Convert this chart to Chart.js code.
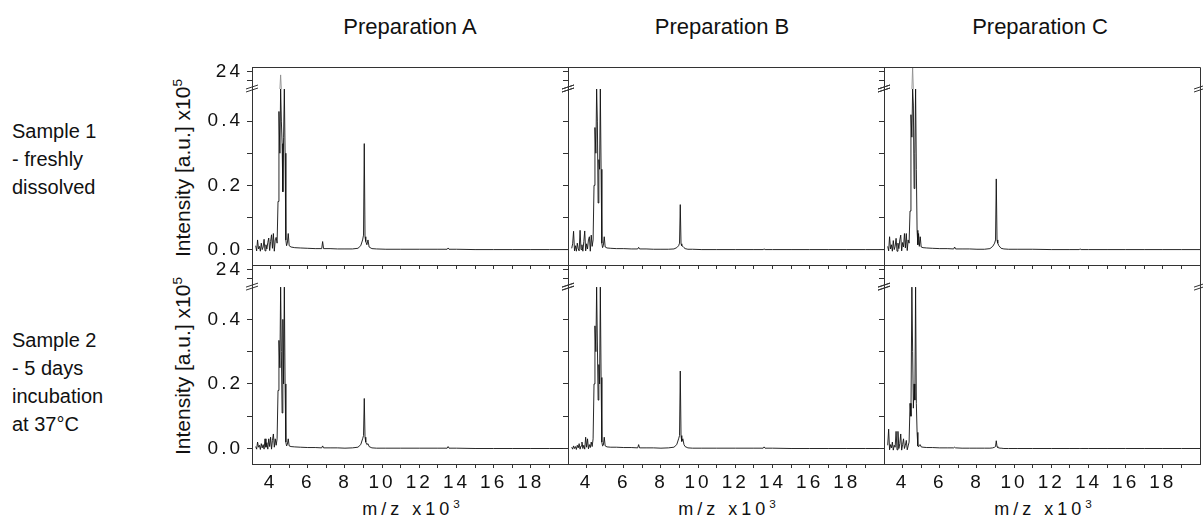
<!DOCTYPE html>
<html>
<head>
<meta charset="utf-8">
<script src="https://cdn.jsdelivr.net/npm/chart.js@4.4.1/dist/chart.umd.min.js"></script>
<style>
  body { margin: 0; background: #fff; width: 1203px; height: 525px; position: relative; overflow: hidden;
         font-family: "Liberation Sans", Arial, sans-serif; color: #111; }
  canvas { position: absolute; }
  .lbl { position: absolute; white-space: nowrap; }
  .col { font-size: 22px; transform: translateX(-50%); top: 14px; }
  .row { font-size: 20px; line-height: 28px; left: 12px; }
  .ytitle { font-size: 21px; transform: translate(-50%, -50%) rotate(-90deg); }
  .xtitle { font-size: 18px; letter-spacing: 4px; transform: translateX(-50%); top: 499px; }
  sup { font-size: 0.65em; vertical-align: 0.6em; line-height: 0; }
</style>
</head>
<body>

<div class="lbl col" style="left:410px">Preparation A</div>
<div class="lbl col" style="left:722px">Preparation B</div>
<div class="lbl col" style="left:1040px">Preparation C</div>

<div class="lbl row" style="top:117px">Sample 1<br>- freshly<br>dissolved</div>
<div class="lbl row" style="top:326px">Sample 2<br>- 5 days<br>incubation<br>at 37°C</div>

<div class="lbl ytitle" style="left:183px;top:168px">Intensity [a.u.] x10<sup>5</sup></div>
<div class="lbl ytitle" style="left:183px;top:366px">Intensity [a.u.] x10<sup>5</sup></div>

<div class="lbl xtitle" style="left:413px">m/z x10<sup>3</sup></div>
<div class="lbl xtitle" style="left:729px">m/z x10<sup>3</sup></div>
<div class="lbl xtitle" style="left:1045px">m/z x10<sup>3</sup></div>

<script>
// m/z positions (x10^3), shared by all six spectra
const mz = [
  3.20, 3.25, 3.30, 3.35, 3.40, 3.45, 3.50, 3.55, 3.60, 3.65, 3.70, 3.75,
  3.80, 3.85, 3.90, 3.95, 4.00, 4.05, 4.10, 4.15, 4.20, 4.25, 4.30,
  4.35, 4.40, 4.45, 4.50, 4.54, 4.58, 4.62, 4.66, 4.70, 4.74, 4.78, 4.82, 4.86, 4.90,
  4.95, 5.00, 5.10, 5.30, 5.60, 6.00, 6.40, 6.75, 6.80, 6.85,
  7.20, 7.60, 8.00, 8.40, 8.70, 8.85, 8.95, 9.00, 9.04, 9.08,
  9.12, 9.18, 9.24, 9.30, 9.45, 9.70, 10.2, 11.0, 12.0, 13.0,
  13.5, 13.55, 13.6, 14.0, 15.0, 16.0, 17.0, 18.0, 19.0, 20.0
];

// intensities (x10^5), sample 1 = top row, sample 2 = bottom row
const prepA1 = [
  0.012, -0.004, 0.030, 0.002, 0.010, -0.005, 0.020, 0.000, 0.008, 0.032, -0.004, 0.015,
  0.002, 0.022, 0.036, -0.003, 0.025, 0.046, 0.004, 0.050, -0.005, 0.030, 0.038,
  0.02, 0.15, 0.43, 0.30, 23.6, 0.40, 0.33, 0.18, 0.35, 1.2, 0.30, 0.03, 0.012, 0.02,
  0.05, 0.012, 0.008, 0.006, 0.005, 0.004, 0.003, 0.003, 0.025, 0.003,
  0.003, 0.002, 0.002, 0.002, 0.004, 0.012, 0.03, 0.045, 0.33, 0.04,
  0.025, 0.015, 0.03, 0.008, 0.003, 0.002, 0.001, 0.001, 0.001, 0.001,
  0.001, 0.005, 0.001, 0.001, 0, 0, 0, 0, 0, 0
];
const prepB1 = [
  0.004, 0.018, 0.057, -0.004, 0.012, -0.005, 0.020, 0.002, -0.004, 0.060, 0.000, 0.015,
  -0.005, 0.025, 0.058, -0.004, 0.018, 0.002, 0.030, 0.040, -0.005, 0.045, 0.010,
  0.03, 0.20, 0.38, 0.30, 1.5, 0.40, 0.145, 0.28, 0.25, 1.5, 0.25, 0.02, 0.006, 0.012,
  0.04, 0.008, 0.005, 0.004, 0.003, 0.003, 0.002, 0.002, 0.007, 0.002,
  0.002, 0.001, 0.001, 0.001, 0.002, 0.006, 0.012, 0.02, 0.14, 0.018,
  0.012, 0.01, 0.006, 0.003, 0.001, 0.001, 0, 0, 0, 0,
  0, 0.002, 0, 0, 0, 0, 0, 0, 0, 0
];
const prepC1 = [
  0.010, -0.004, 0.040, 0.002, 0.015, -0.005, 0.028, 0.000, 0.010, 0.035, -0.005, 0.020,
  0.003, 0.030, 0.045, -0.004, 0.022, 0.008, 0.050, 0.005, 0.050, -0.003, 0.030,
  0.02, 0.12, 0.42, 0.35, 30, 0.45, 0.19, 0.30, 1.5, 0.25, 0.06, 0.015, 0.05, 0.01,
  0.04, 0.008, 0.006, 0.005, 0.004, 0.003, 0.003, 0.002, 0.008, 0.002,
  0.002, 0.002, 0.001, 0.001, 0.003, 0.01, 0.02, 0.03, 0.22, 0.03,
  0.02, 0.012, 0.008, 0.004, 0.002, 0.001, 0.001, 0.001, 0, 0,
  0, 0.002, 0, 0, 0, 0, 0, 0, 0, 0
];
const prepA2 = [
  0.006, -0.002, 0.020, 0.004, 0.010, -0.003, 0.015, 0.002, 0.012, -0.002, 0.030, 0.004,
  0.018, -0.002, 0.030, 0.006, 0.035, -0.002, 0.025, 0.045, 0.004, 0.030, 0.010,
  0.03, 0.18, 0.335, 0.25, 1.5, 0.30, 0.11, 0.40, 0.20, 1.5, 0.20, 0.02, 0.008, 0.012,
  0.03, 0.008, 0.006, 0.005, 0.004, 0.003, 0.003, 0.002, 0.008, 0.002,
  0.002, 0.002, 0.001, 0.002, 0.004, 0.012, 0.03, 0.04, 0.155, 0.035,
  0.02, 0.012, 0.015, 0.006, 0.002, 0.001, 0.001, 0.001, 0.001, 0.001,
  0.001, 0.006, 0.001, 0.001, 0, 0, 0, 0, 0, 0
];
const prepB2 = [
  0.004, -0.002, 0.008, 0.000, 0.006, -0.003, 0.010, 0.002, 0.015, -0.002, 0.008, 0.020,
  0.000, 0.010, -0.002, 0.035, 0.004, 0.030, -0.001, 0.012, 0.003, 0.020, 0.006,
  0.03, 0.20, 0.38, 0.30, 1.5, 0.33, 0.15, 0.26, 0.20, 1.5, 0.22, 0.02, 0.008, 0.01,
  0.035, 0.008, 0.005, 0.004, 0.004, 0.003, 0.003, 0.002, 0.012, 0.002,
  0.002, 0.002, 0.001, 0.002, 0.004, 0.012, 0.03, 0.04, 0.24, 0.04,
  0.022, 0.03, 0.012, 0.006, 0.002, 0.001, 0.001, 0.001, 0.001, 0.001,
  0.001, 0.005, 0.001, 0.001, 0, 0, 0, 0, 0, 0
];
const prepC2 = [
  0.010, 0.060, -0.004, 0.012, 0.002, 0.020, -0.005, 0.010, 0.004, 0.053, -0.004, 0.053,
  0.000, 0.015, 0.045, -0.005, 0.012, 0.030, 0.000, 0.010, 0.025, -0.004, 0.008,
  0.02, 0.14, 0.10, 1.5, 0.30, 0.125, 0.20, 0.15, 1.5, 0.14, 0.05, 0.008, 0.005, 0.01,
  0.012, 0.005, 0.004, 0.003, 0.003, 0.002, 0.002, 0.002, 0.004, 0.002,
  0.001, 0.001, 0.001, 0.001, 0.001, 0.002, 0.004, 0.006, 0.024, 0.006,
  0.003, 0.002, 0.001, 0.001, 0, 0, 0, 0, 0, 0,
  0, 0, 0, 0, 0, 0, 0, 0, 0, 0
];

// axis ticks
const xTicks = [4, 5, 6, 7, 8, 9, 10, 11, 12, 13, 14, 15, 16, 17, 18, 19];
const xLabels = ['4', '', '6', '', '8', '', '10', '', '12', '', '14', '', '16', '', '18', ''];
const yTicks = [0, 0.1, 0.2, 0.3, 0.4];
const yLabels = ['0.0', '', '0.2', '', '0.4'];
const topTicks = [23, 24];
const topLabels = ['', '24'];

// broken y axis: lower part and upper part
const LOW_MIN = -0.048, LOW_MAX = 0.5;
const UP_MIN = 22, UP_MAX = 24.5;

const L = 100, R = 12, T = 12, B = 60;
const colLeft = [252, 568, 884];
const rowTop = [67, 265];
const rowH = [198, 199];
const PW = 316;

const tickFont = { family: 'Liberation Sans', size: 19 };
const axisColor = '#333';

Chart.defaults.font.family = 'Liberation Sans';
Chart.defaults.color = '#111';

const spacing = {
  id: 'spacing',
  beforeDraw(chart) { chart.ctx.letterSpacing = '3px'; }
};

const frame = {
  id: 'frame',
  afterDraw(chart) {
    const { ctx, chartArea: a } = chart;
    const yb = chart.scales.y.top;
    ctx.save();
    ctx.strokeStyle = axisColor;
    ctx.lineWidth = 1;
    ctx.beginPath();
    ctx.moveTo(a.left, a.top + 0.5);
    ctx.lineTo(a.right + 0.5, a.top + 0.5);
    ctx.lineTo(a.right + 0.5, a.bottom);
    ctx.stroke();
    // axis break marks
    [a.left, a.right].forEach(x0 => {
      ctx.beginPath();
      ctx.moveTo(x0 - 6, yb + 3); ctx.lineTo(x0 + 6, yb - 1);
      ctx.moveTo(x0 - 6, yb);     ctx.lineTo(x0 + 6, yb - 4);
      ctx.stroke();
    });
    ctx.restore();
  }
};

function panel(values, col, row) {
  const canvas = document.createElement('canvas');
  const h = rowH[row];
  canvas.width = PW + L + R;
  canvas.height = h + T + B;
  canvas.style.left = (colLeft[col] - L) + 'px';
  canvas.style.top = (rowTop[row] - T) + 'px';
  document.body.appendChild(canvas);

  const lower = mz.map((x, i) => ({ x, y: Math.min(values[i], LOW_MAX) }));
  const upper = mz.map((x, i) => ({ x, y: Math.min(Math.max(values[i], UP_MIN), UP_MAX) }));
  const showX = row === 1;
  const showY = col === 0;

  const yCommon = {
    type: 'linear',
    position: 'left',
    stack: 'v',
    grid: { drawOnChartArea: false, tickLength: 5, color: axisColor },
    border: { color: axisColor },
    afterFit(s) { s.width = L; s.paddingTop = 0; s.paddingBottom = 0; }
  };

  new Chart(canvas, {
    type: 'line',
    data: {
      datasets: [{
        data: lower,
        yAxisID: 'y',
        borderColor: '#111',
        borderWidth: 0.9,
        pointRadius: 0,
        tension: 0
      }, {
        data: upper,
        yAxisID: 'y2',
        borderColor: '#888',
        borderWidth: 0.8,
        pointRadius: 0,
        tension: 0,
        segment: {
          borderColor: c => (c.p0.parsed.y <= UP_MIN && c.p1.parsed.y <= UP_MIN) ? 'rgba(0,0,0,0)' : '#888'
        }
      }]
    },
    options: {
      responsive: false,
      animation: false,
      events: [],
      layout: { padding: { left: 0, top: T, right: R, bottom: 0 } },
      plugins: { legend: { display: false }, tooltip: { enabled: false } },
      scales: {
        x: {
          type: 'linear',
          min: 3, max: 20,
          afterBuildTicks(s) { s.ticks = xTicks.map(v => ({ value: v })); },
          afterFit(s) { s.height = B; s.paddingLeft = 0; s.paddingRight = 0; },
          ticks: {
            autoSkip: false, maxRotation: 0, padding: 3, font: tickFont,
            callback: (v, i) => showX ? xLabels[i] : ''
          },
          grid: { drawOnChartArea: false, tickLength: 4, color: axisColor },
          border: { color: axisColor }
        },
        y: Object.assign({}, yCommon, {
          min: LOW_MIN, max: LOW_MAX,
          stackWeight: 176,
          afterBuildTicks(s) { s.ticks = yTicks.map(v => ({ value: v })); },
          ticks: { autoSkip: false, padding: 4, font: tickFont, callback: (v, i) => showY ? yLabels[i] : '' }
        }),
        y2: Object.assign({}, yCommon, {
          min: UP_MIN, max: UP_MAX,
          stackWeight: 22,
          afterBuildTicks(s) { s.ticks = topTicks.map(v => ({ value: v })); },
          ticks: { autoSkip: false, padding: 4, font: tickFont, callback: (v, i) => showY ? topLabels[i] : '' }
        })
      }
    },
    plugins: [spacing, frame]
  });
}

panel(prepA1, 0, 0);
panel(prepB1, 1, 0);
panel(prepC1, 2, 0);
panel(prepA2, 0, 1);
panel(prepB2, 1, 1);
panel(prepC2, 2, 1);
</script>
</body>
</html>
